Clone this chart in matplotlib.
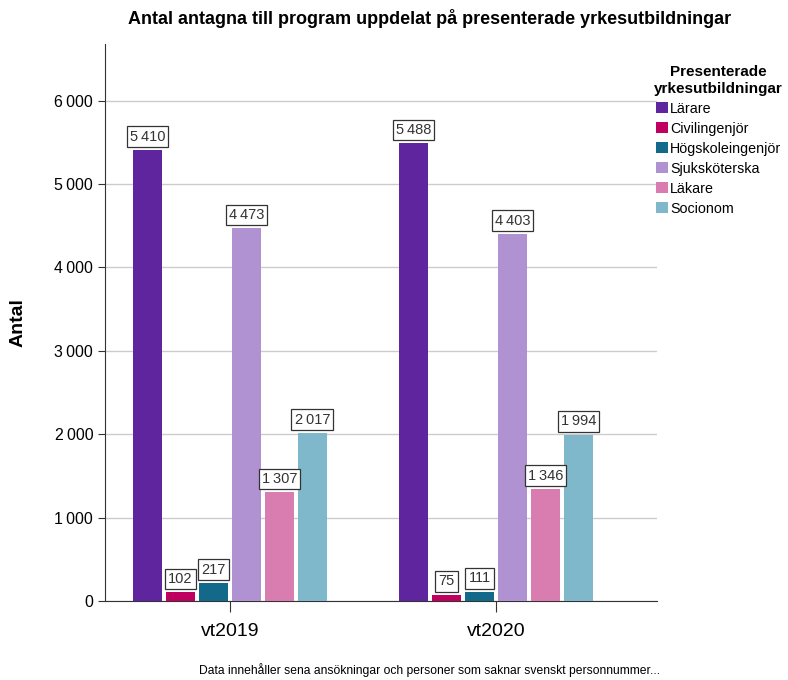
import numpy as np
import matplotlib
matplotlib.use("Agg")
import matplotlib.pyplot as plt
from matplotlib.ticker import FuncFormatter

plt.rcParams["font.family"] = ["Liberation Sans", "DejaVu Sans"]

terms = ["vt2019", "vt2020"]
programs = ["Lärare", "Civilingenjör", "Högskoleingenjör", "Sjuksköterska", "Läkare", "Socionom"]
larare = [5410, 5488]
civilingenjor = [102, 75]
hogskoleingenjor = [217, 111]
sjukskoterska = [4473, 4403]
lakare = [1307, 1346]
socionom = [2017, 1994]
colors = ["#5f259f", "#c0005e", "#12698a", "#b091d1", "#d97cb0", "#80b8cb"]

series = [larare, civilingenjor, hogskoleingenjor, sjukskoterska, lakare, socionom]


def fmt(v):
        return "{:,}".format(int(v)).replace(",", "\u2009")


fig = plt.figure(figsize=(7.88, 6.8), dpi=100)
ax = fig.add_axes([0.1332, 0.1162, 0.7005, 0.8191])

x = np.arange(len(terms))
step = 0.124
width = 0.11
for i, (name, vals) in enumerate(zip(programs, series)):
        pos = x + (i - 2.5) * step
        ax.bar(pos, vals, width, color=colors[i], label=name, zorder=3)
        for p, v in zip(pos, vals):
                ax.annotate(fmt(v), (p, v), xytext=(0, 4.5), textcoords="offset points",
                            ha="center", va="bottom", fontsize=10.5, color="#333333", zorder=4,
                            bbox=dict(boxstyle="square,pad=0.22", fc="white", ec="#333333", lw=0.9))

ax.set_xlim(-0.47, 1.605)
ax.set_ylim(0, 6680)
ax.set_yticks(range(0, 7000, 1000))
ax.yaxis.set_major_formatter(FuncFormatter(lambda v, _: fmt(v)))
ax.set_xticks(x)
ax.set_xticklabels(terms, fontsize=14)
ax.tick_params(axis="y", labelsize=11.5, length=5, color="#333333")
ax.tick_params(axis="x", length=8, color="#333333", pad=8)
ax.grid(axis="y", color="#cccccc", lw=1, zorder=0)
for s in ("top", "right"):
        ax.spines[s].set_visible(False)
ax.spines["left"].set_color("#333333")
ax.spines["bottom"].set_color("#333333")

ax.set_ylabel("Antal", fontsize=14, fontweight="bold", labelpad=20)
fig.text(0.545, 0.973, "Antal antagna till program uppdelat på presenterade yrkesutbildningar",
         ha="center", va="center", fontsize=13, fontweight="bold")
fig.text(0.545, 0.005, "Data innehåller sena ansökningar och personer som saknar svenskt personnummer...",
         ha="center", va="bottom", fontsize=8.7)

leg = ax.legend(title="Presenterade\nyrkesutbildningar", loc="upper left",
                bbox_to_anchor=(0.985, 0.972), frameon=False, fontsize=10.3,
                title_fontproperties={"weight": "bold", "size": 11},
                handlelength=0.85, handleheight=0.85, handletextpad=0.15,
                labelspacing=0.42, borderaxespad=0)
leg.get_title().set_multialignment("center")

fig.savefig("out.png", dpi=100)
